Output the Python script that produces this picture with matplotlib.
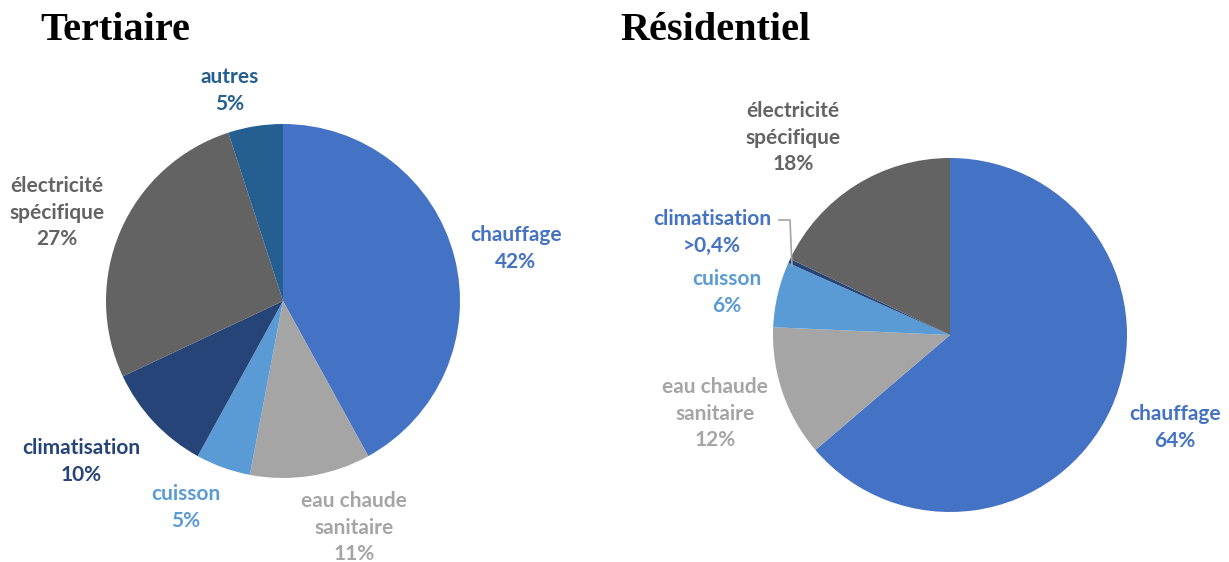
import matplotlib.pyplot as plt

# data
categories_t = ['chauffage', 'eau chaude\nsanitaire', 'cuisson', 'climatisation',
                'électricité\nspécifique', 'autres']
values_t = [42, 11, 5, 10, 27, 5]
labels_t = ['42%', '11%', '5%', '10%', '27%', '5%']

categories_r = ['chauffage', 'eau chaude\nsanitaire', 'cuisson', 'climatisation',
                'électricité\nspécifique']
values_r = [64, 12, 6, 0.4, 18]
labels_r = ['64%', '12%', '6%', '>0,4%', '18%']

colors_t = ['#4472C4', '#A5A5A5', '#5B9BD5', '#264478', '#636363', '#255E91']
colors_r = ['#4472C4', '#A5A5A5', '#5B9BD5', '#264478', '#636363']
text_t = ['#4472C4', '#A5A5A5', '#5B9BD5', '#264478', '#636363', '#255E91']
text_r = ['#4472C4', '#A5A5A5', '#5B9BD5', '#4472C4', '#636363']

W, H = 1229, 562
fig = plt.figure(figsize=(W / 100, H / 100), dpi=100)


def pie_axes(cx, cy, r):
    ax = fig.add_axes([(cx - r) / W, (H - cy - r) / H, 2 * r / W, 2 * r / H])
    return ax


def px(cx, cy, r, x, y):
    # pixel position -> data coords of a pie axes
    return (x - cx) / r, -(y - cy) / r


# label centers in pixels (x, y of first line)
pos_t = [(516, 234), (354, 500), (186, 493), (81, 447), (57, 185), (230, 76)]
pos_r = [(1175, 413), (715, 386), (727, 278), (712, 218), (793, 110)]

font = ['Lato', 'DejaVu Sans']

for cx, cy, r, vals, cols, cats, labs, tcols, pos in [
        (283, 301, 177, values_t, colors_t, categories_t, labels_t, text_t, pos_t),
        (950, 335, 177, values_r, colors_r, categories_r, labels_r, text_r, pos_r)]:
    ax = pie_axes(cx, cy, r)
    ax.pie(vals, colors=cols, startangle=90, counterclock=False,
           wedgeprops=dict(linewidth=0))
    ax.set_xlim(-1, 1)
    ax.set_ylim(-1, 1)
    for cat, lab, tc, (x, y) in zip(cats, labs, tcols, pos):
        dx, dy = px(cx, cy, r, x, y - 9)
        ax.text(dx, dy, cat + '\n' + lab, ha='center', va='top', color=tc,
                fontsize=15, fontweight='bold', family=font,
                linespacing=1.42, clip_on=False)
    if cx == 950:
        pts = [px(cx, cy, r, x, y) for x, y in [(779, 220), (790, 220), (792, 266)]]
        ax.plot([p[0] for p in pts], [p[1] for p in pts], color='#A5A5A5',
                lw=1.2, clip_on=False)

fig.text(40 / W, 1 - 31 / H, 'Tertiaire', ha='left', va='center',
         fontsize=29, fontweight='bold', family='Liberation Serif')
fig.text(620 / W, 1 - 31 / H, 'Résidentiel', ha='left', va='center',
         fontsize=29, fontweight='bold', family='Liberation Serif')

fig.savefig('out.png', dpi=100)
